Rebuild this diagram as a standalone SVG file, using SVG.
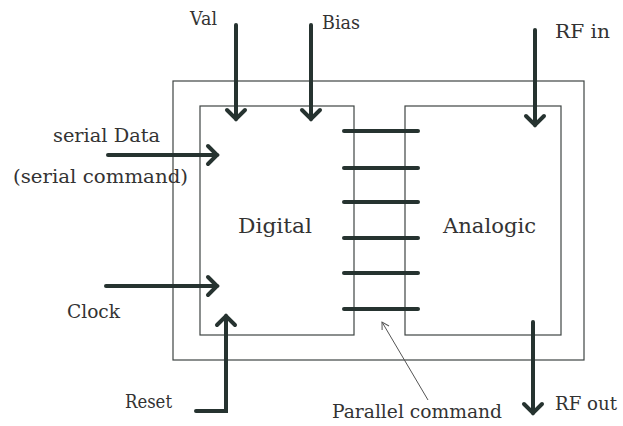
<svg xmlns="http://www.w3.org/2000/svg" width="623" height="426" viewBox="0 0 623 426">
  <style>
    .box { fill: none; stroke: #3f4543; stroke-width: 1.2; }
    .wire { fill: none; stroke: #263330; stroke-width: 4; stroke-linecap: round; stroke-linejoin: miter; }
    .bus { fill: none; stroke: #263330; stroke-width: 4; stroke-linecap: round; }
    .thin { fill: none; stroke: #555; stroke-width: 1; }
    text { font-family: "DejaVu Serif", "Liberation Serif", serif; fill: #333; font-size: 18px; }
    .big { font-size: 21px; }
  </style>
  <defs>
    <marker id="chev" markerUnits="userSpaceOnUse" viewBox="-12 -12 16 24" refX="0" refY="0" markerWidth="16" markerHeight="24" orient="auto" overflow="visible">
      <path d="M-9,-9 L0,0 L-9,9" fill="none" stroke="#263330" stroke-width="4" stroke-linecap="round" stroke-linejoin="miter"/>
    </marker>
    <marker id="open" markerUnits="userSpaceOnUse" viewBox="-8 -6 10 12" refX="0" refY="0" markerWidth="10" markerHeight="12" orient="auto" overflow="visible">
      <path d="M-7,-4 L0,0 L-7,4" fill="none" stroke="#555" stroke-width="1"/>
    </marker>
  </defs>
  <rect width="623" height="426" fill="#ffffff"/>

  <g id="outer">
    <rect class="box" x="173" y="81" width="411" height="279"/>
  </g>
  <g id="digital">
    <rect x="200" y="106" width="154" height="229" fill="#fff" class="box"/>
    <text class="big" x="238" y="233" textLength="74" lengthAdjust="spacingAndGlyphs">Digital</text>
  </g>
  <g id="analogic">
    <rect x="405" y="106" width="156" height="229" fill="#fff" class="box"/>
    <text class="big" x="443" y="233" textLength="93" lengthAdjust="spacingAndGlyphs">Analogic</text>
  </g>

  <g id="connectors">
    <line class="wire" x1="236" y1="25" x2="236" y2="119" marker-end="url(#chev)"/>
    <line class="wire" x1="311" y1="25" x2="311" y2="119" marker-end="url(#chev)"/>
    <line class="wire" x1="535" y1="30" x2="535" y2="125" marker-end="url(#chev)"/>
    <line class="wire" x1="108" y1="155" x2="217" y2="155" marker-end="url(#chev)"/>
    <line class="wire" x1="106" y1="286" x2="217" y2="286" marker-end="url(#chev)"/>
    <polyline class="wire" points="196,411 226,411 226,316" marker-end="url(#chev)"/>
    <line class="wire" x1="533" y1="322" x2="533" y2="413" marker-end="url(#chev)"/>
    <line class="bus" x1="344" y1="131" x2="418" y2="131"/>
    <line class="bus" x1="344" y1="168" x2="418" y2="168"/>
    <line class="bus" x1="344" y1="202" x2="418" y2="202"/>
    <line class="bus" x1="344" y1="238" x2="418" y2="238"/>
    <line class="bus" x1="344" y1="273" x2="418" y2="273"/>
    <line class="bus" x1="344" y1="309" x2="418" y2="309"/>
    <line class="thin" x1="428" y1="400" x2="382" y2="322" marker-end="url(#open)"/>
  </g>

  <g id="labels">
    <text x="190" y="25" textLength="27" lengthAdjust="spacingAndGlyphs">Val</text>
    <text x="322" y="29" textLength="38" lengthAdjust="spacingAndGlyphs">Bias</text>
    <text x="555" y="38" textLength="55" lengthAdjust="spacingAndGlyphs">RF in</text>
    <text x="53" y="142" textLength="107" lengthAdjust="spacingAndGlyphs">serial Data</text>
    <text x="13" y="183" textLength="175" lengthAdjust="spacingAndGlyphs">(serial command)</text>
    <text x="67" y="318" textLength="53" lengthAdjust="spacingAndGlyphs">Clock</text>
    <text x="125" y="408" textLength="47" lengthAdjust="spacingAndGlyphs">Reset</text>
    <text x="332" y="418" textLength="170" lengthAdjust="spacingAndGlyphs">Parallel command</text>
    <text x="555" y="410" textLength="62" lengthAdjust="spacingAndGlyphs">RF out</text>
  </g>
</svg>
